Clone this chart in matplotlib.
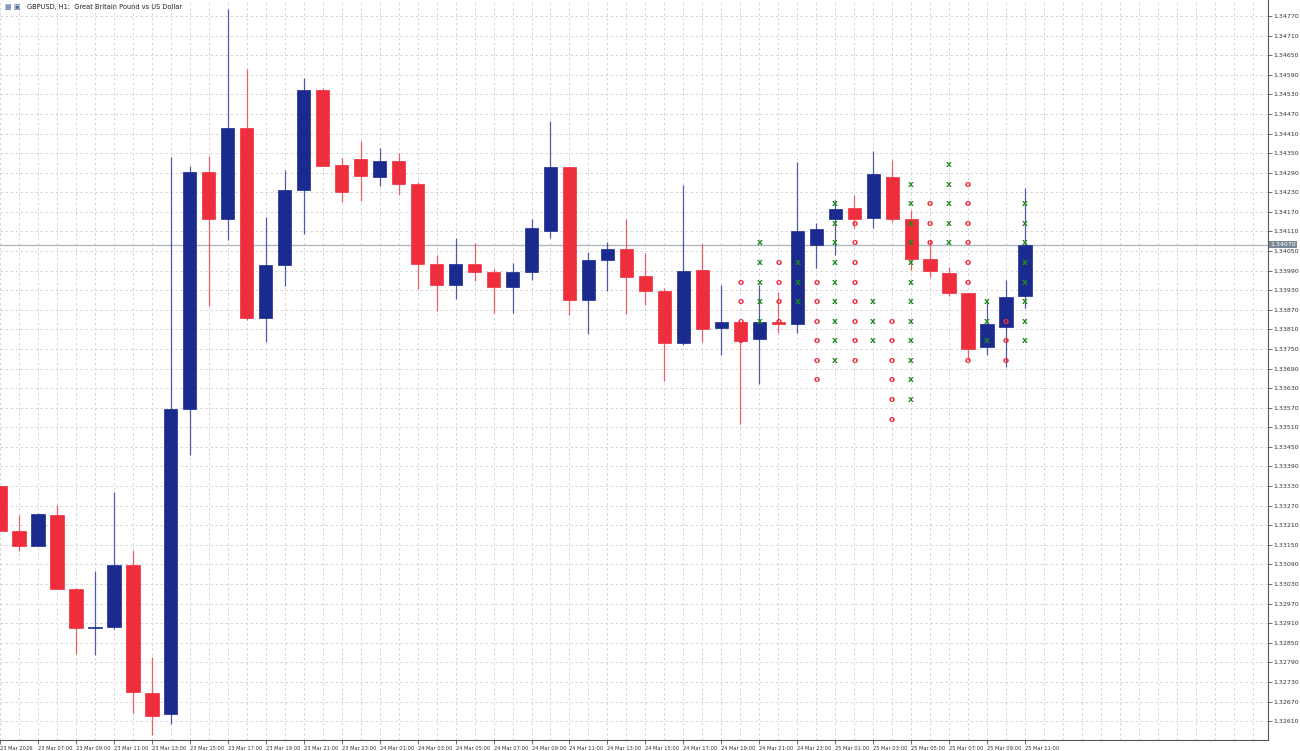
import matplotlib
matplotlib.use("Agg")
import matplotlib.pyplot as plt
import numpy as np

labels = ["23 Mar 2026"] + [f"23 Mar {h:02d}:00" for h in range(7, 24, 2)] + \
         [f"24 Mar {h:02d}:00" for h in range(1, 24, 2)] + [f"25 Mar {h:02d}:00" for h in range(1, 12, 2)]
label_idx = list(range(-1, 54, 2))

opens = [1.33330,1.33192,1.33146,1.33241,1.33014,1.32895,1.32898,1.33088,1.32696,1.32631,
         1.33566,1.34292,1.34148,1.34427,1.33845,1.34007,1.34237,1.34543,1.34313,1.34332,
         1.34277,1.34326,1.34255,1.34010,1.33946,1.34010,1.33986,1.33940,1.33986,1.34111,
         1.34307,1.33900,1.34022,1.34056,1.33973,1.33927,1.33768,1.33992,1.33814,1.33832,
         1.33780,1.33832,1.33826,1.34068,1.34148,1.34182,1.34151,1.34277,1.34148,1.34025,
         1.33983,1.33921,1.33756,1.33817,1.33912]
closes = [1.33192,1.33146,1.33244,1.33014,1.32895,1.32898,1.33088,1.32699,1.32625,1.33566,
          1.34292,1.34148,1.34427,1.33845,1.34007,1.34237,1.34543,1.34310,1.34231,1.34280,
          1.34326,1.34255,1.34010,1.33946,1.34010,1.33986,1.33940,1.33986,1.34120,1.34307,
          1.33900,1.34022,1.34056,1.33970,1.33927,1.33768,1.33989,1.33811,1.33832,1.33774,
          1.33832,1.33826,1.34111,1.34117,1.34179,1.34148,1.34286,1.34148,1.34025,1.33989,
          1.33921,1.33750,1.33826,1.33909,1.34068]
highs = [1.33330,1.33241,1.33247,1.33272,1.33017,1.33069,1.33312,1.33134,1.32806,1.34338,
         1.34310,1.34341,1.34791,1.34608,1.34154,1.34298,1.34580,1.34549,1.34335,1.34387,
         1.34366,1.34350,1.34261,1.34038,1.34090,1.34074,1.33995,1.34013,1.34148,1.34448,
         1.34307,1.34047,1.34077,1.34148,1.34044,1.33937,1.34252,1.34071,1.33946,1.33832,
         1.33946,1.33924,1.34323,1.34136,1.34206,1.34222,1.34356,1.34329,1.34176,1.34084,
         1.34001,1.33921,1.33897,1.33961,1.34243]
lows = [1.33192,1.33131,1.33146,1.33014,1.32815,1.32812,1.32892,1.32634,1.32567,1.32601,
        1.33425,1.33881,1.34084,1.33839,1.33771,1.33943,1.34102,1.34310,1.34200,1.34203,
        1.34249,1.34222,1.33934,1.33866,1.33903,1.33958,1.33860,1.33860,1.33961,1.34090,
        1.33854,1.33796,1.33927,1.33857,1.33885,1.33652,1.33762,1.33771,1.33731,1.33520,
        1.33642,1.33799,1.33799,1.33998,1.34038,1.34120,1.34120,1.34139,1.33992,1.33970,
        1.33912,1.33716,1.33731,1.33695,1.33875]
first_idx = -1

# Point & figure columns: candle index, type, top, bottom
pf_idx = [38,39,40,41,42,43,44,45,46,47,48,49,50,51,52,53]
pf_type = ["o","x","o","x","o","x","o","x","o","x","o","x","o","x","o","x"]
pf_top = [1.33955,1.34075,1.34015,1.34015,1.33955,1.34195,1.34135,1.33895,
          1.33835,1.34255,1.34195,1.34315,1.34255,1.33895,1.33835,1.34195]
pf_bot = [1.33775,1.33835,1.33835,1.33895,1.33655,1.33715,1.33715,1.33775,
          1.33535,1.33595,1.34015,1.34075,1.33715,1.33775,1.33715,1.33775]
box = 0.0006
current_price = 1.34070

BLUE = "#1b2a8e"; RED = "#ee2d3d"; GREEN = "#1e8a1e"

fig = plt.figure(figsize=(13, 7.51), dpi=100)
ax = fig.add_axes([0, 0.0146, 0.9754, 0.9854])
ax.set_xlim(-0.97, 65.8)
ax.set_ylim(1.32552, 1.34819)

yt = np.round(np.arange(1.32610, 1.34771, 0.0006), 5)
ax.set_yticks(yt)
ax.set_yticklabels([f"{v:.5f}" for v in yt], fontsize=4.5, color="#333333")
ax.yaxis.tick_right()
ax.set_xticks(label_idx)
ax.set_xticklabels(labels, fontsize=3.7, ha="left", color="#333333")
ax.set_xticks(np.arange(-1, 66), minor=True)
ax.tick_params(axis="both", length=3, width=0.6, color="#555555", pad=1)
ax.tick_params(axis="x", which="minor", length=0)
ax.grid(True, which="both", axis="x", ls=(0, (3, 3)), color="#d0d0d0", lw=0.6)
ax.grid(True, axis="y", ls=(0, (3, 3)), color="#d0d0d0", lw=0.6)
for s in ["top", "left"]:
    ax.spines[s].set_visible(False)
ax.spines["right"].set_color("#555555")
ax.spines["bottom"].set_color("#555555")
ax.set_axisbelow(True)

ax.axhline(current_price, color="#b0b8c0", lw=1, zorder=1)

for k, (o, c, h, l) in enumerate(zip(opens, closes, highs, lows)):
    i = first_idx + k
    col = BLUE if c >= o else RED
    ax.vlines(i, l, h, color=col, lw=0.9, alpha=0.75, zorder=2)
    lo, hi = min(o, c), max(o, c)
    ax.bar(i, max(hi - lo, 0.00003), bottom=lo, width=0.7, color=col,
           edgecolor=col, lw=0.5, zorder=3)

for i, t, top, bot in zip(pf_idx, pf_type, pf_top, pf_bot):
    n = int(round((top - bot) / box)) + 1
    for j in range(n):
        ax.text(i, top - j * box, t, color=GREEN if t == "x" else RED,
                fontsize=6.5, fontweight="bold", ha="center", va="center", zorder=5)

ax.text(1.0015, current_price, f"{current_price:.5f}", transform=ax.get_yaxis_transform(),
        fontsize=4.5, color="white", va="center", ha="left",
        bbox=dict(boxstyle="square,pad=0.2", fc="#7a8896", ec="none"), zorder=6)

fig.text(0.0035, 0.991, "▦ ▣", fontsize=5, color="#4a6aa0", va="center")
fig.text(0.021, 0.991, "GBPUSD, H1:  Great Britain Pound vs US Dollar", fontsize=4.8,
         color="#222222", va="center")

fig.savefig("out.png", dpi=100)
